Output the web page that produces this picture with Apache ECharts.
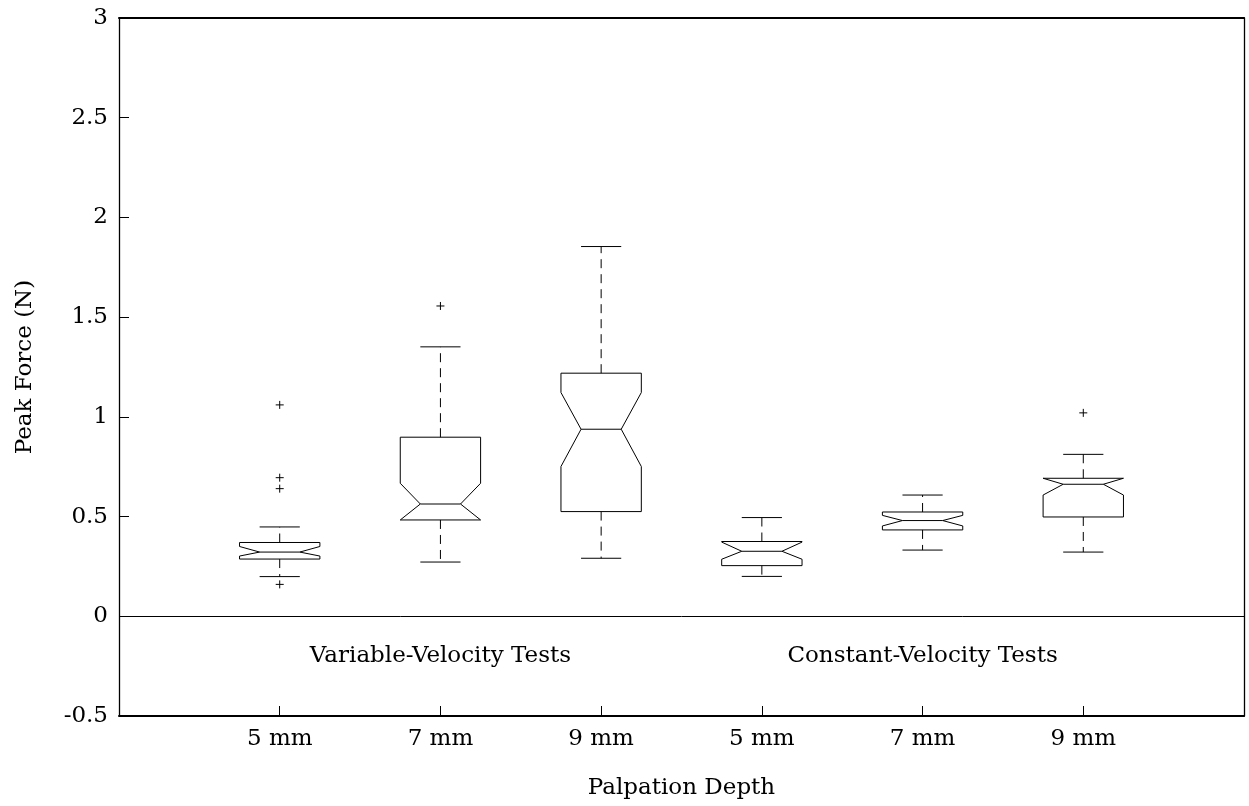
<!DOCTYPE html>
<html>
<head>
<meta charset="utf-8">
<script src="https://cdn.jsdelivr.net/npm/echarts@6/dist/echarts.min.js"></script>
<style>
  html, body { margin: 0; padding: 0; background: #fff; }
  #chart { width: 1249px; height: 806px; }
</style>
</head>
<body>
<div id="chart"></div>
<script>
// Box positions on the x axis and their tick labels
const positions = [1, 2, 3, 4, 5, 6];
const depthLabels = ['5 mm', '7 mm', '9 mm', '5 mm', '7 mm', '9 mm'];

// Box statistics (N)
const whiskerLow  = [0.199, 0.272, 0.291, 0.200, 0.332, 0.322];
const q1          = [0.287, 0.483, 0.525, 0.254, 0.433, 0.498];
const notchLow    = [0.302, 0.483, 0.751, 0.286, 0.453, 0.608];
const median      = [0.322, 0.563, 0.938, 0.326, 0.480, 0.662];
const notchHigh   = [0.350, 0.667, 1.122, 0.372, 0.506, 0.692];
const q3          = [0.370, 0.898, 1.219, 0.375, 0.523, 0.692];
const whiskerHigh = [0.448, 1.351, 1.854, 0.495, 0.608, 0.812];

// Outliers: [position, value]
const outliers = [
  [1, 1.06], [1, 0.695], [1, 0.640], [1, 0.160],
  [2, 1.556],
  [6, 1.020]
];

// Group captions placed inside the plot
const groupCaptions = [
  [2, -0.2, 'Variable-Velocity Tests'],
  [5, -0.2, 'Constant-Velocity Tests']
];

const FONT = 'DejaVu Serif';
const FS = 23;
const boxHalf = 0.25;     // half box width in axis units
const notchHalf = 0.125;  // half width at the median
const capHalf = 0.125;    // half whisker cap width

const boxData = positions.map((p, i) => [p, whiskerLow[i], q1[i], notchLow[i], median[i], notchHigh[i], q3[i], whiskerHigh[i]]);

const chart = echarts.init(document.getElementById('chart'), null, { renderer: 'canvas' });

const lineStyle = { stroke: '#000', lineWidth: 1, fill: null };
const dashStyle = { stroke: '#000', lineWidth: 1, lineDash: [9, 6], fill: null };

function renderBox(params, api) {
  const x = api.value(0);
  const v = [1,2,3,4,5,6,7].map(k => api.value(k));
  const [wl, b1, nl, md, nh, b3, wh] = v;
  const P = (dx, y) => api.coord([x + dx, y]);
  const outline = [
    P(-boxHalf, b1), P(-boxHalf, nl), P(-notchHalf, md), P(-boxHalf, nh), P(-boxHalf, b3),
    P(boxHalf, b3), P(boxHalf, nh), P(notchHalf, md), P(boxHalf, nl), P(boxHalf, b1)
  ];
  const children = [
    { type: 'polygon', shape: { points: outline }, style: lineStyle },
    { type: 'line', shape: { x1: P(-notchHalf, md)[0], y1: P(0, md)[1], x2: P(notchHalf, md)[0], y2: P(0, md)[1] }, style: lineStyle },
    { type: 'line', shape: { x1: P(0, b3)[0], y1: P(0, b3)[1], x2: P(0, wh)[0], y2: P(0, wh)[1] }, style: dashStyle },
    { type: 'line', shape: { x1: P(0, b1)[0], y1: P(0, b1)[1], x2: P(0, wl)[0], y2: P(0, wl)[1] }, style: dashStyle },
    { type: 'line', shape: { x1: P(-capHalf, wh)[0], y1: P(0, wh)[1], x2: P(capHalf, wh)[0], y2: P(0, wh)[1] }, style: lineStyle },
    { type: 'line', shape: { x1: P(-capHalf, wl)[0], y1: P(0, wl)[1], x2: P(capHalf, wl)[0], y2: P(0, wl)[1] }, style: lineStyle }
  ];
  return { type: 'group', children };
}

function renderPlus(params, api) {
  const c = api.coord([api.value(0), api.value(1)]);
  const r = 4;
  return {
    type: 'group',
    children: [
      { type: 'line', shape: { x1: c[0] - r, y1: c[1], x2: c[0] + r, y2: c[1] }, style: lineStyle },
      { type: 'line', shape: { x1: c[0], y1: c[1] - r, x2: c[0], y2: c[1] + r }, style: lineStyle }
    ]
  };
}

function renderCaption(params, api) {
  const c = api.coord([api.value(0), api.value(1)]);
  return {
    type: 'text',
    x: c[0], y: c[1],
    style: { text: groupCaptions[params.dataIndex][2], font: FS + 'px "' + FONT + '"', fill: '#000', align: 'center', verticalAlign: 'middle' }
  };
}

chart.setOption({
  animation: false,
  backgroundColor: '#fff',
  grid: { left: 119, right: 5, top: 18, bottom: 90, containLabel: false },
  xAxis: [{
    type: 'value', min: 0, max: 7, interval: 1,
    name: 'Palpation Depth', nameLocation: 'middle', nameGap: 72,
    nameTextStyle: { fontFamily: FONT, fontSize: FS, color: '#000', verticalAlign: 'middle' },
    axisLine: { show: true, onZero: false, lineStyle: { color: '#000', width: 2 } },
    axisTick: { show: true, inside: true, length: 10, lineStyle: { color: '#000', width: 1 },
      customValues: positions },
    axisLabel: { color: '#000', fontFamily: FONT, fontSize: FS, margin: 12,
      customValues: positions,
      formatter: v => depthLabels[positions.indexOf(v)] || '' },
    splitLine: { show: false }
  }, {
    type: 'value', min: 0, max: 7, position: 'top',
    axisLine: { show: true, onZero: false, lineStyle: { color: '#000', width: 2 } },
    axisTick: { show: false }, axisLabel: { show: false }, splitLine: { show: false }
  }],
  yAxis: [{
    type: 'value', min: -0.5, max: 3, interval: 0.5,
    name: 'Peak Force (N)', nameLocation: 'middle', nameGap: 94, nameRotate: 90,
    nameTextStyle: { fontFamily: FONT, fontSize: FS, color: '#000', verticalAlign: 'middle' },
    axisLine: { show: true, onZero: false, lineStyle: { color: '#000', width: 1.3 } },
    axisTick: { show: true, inside: true, length: 10, lineStyle: { color: '#000', width: 1 } },
    axisLabel: { color: '#000', fontFamily: FONT, fontSize: FS, margin: 11 },
    splitLine: { show: false }
  }, {
    type: 'value', min: -0.5, max: 3, position: 'right',
    axisLine: { show: true, onZero: false, lineStyle: { color: '#000', width: 1.3 } },
    axisTick: { show: false }, axisLabel: { show: false }, splitLine: { show: false }
  }],
  series: [
    {
      type: 'custom', xAxisIndex: 0, yAxisIndex: 0,
      renderItem: renderBox,
      data: boxData,
      encode: { x: 0, y: [1, 7] },
      markLine: {
        silent: true, symbol: 'none', label: { show: false },
        lineStyle: { color: '#000', width: 1, type: 'solid' },
        data: [{ yAxis: 0 }]
      }
    },
    {
      type: 'custom', xAxisIndex: 0, yAxisIndex: 0,
      renderItem: renderPlus,
      data: outliers,
      encode: { x: 0, y: 1 }
    },
    {
      type: 'custom', xAxisIndex: 0, yAxisIndex: 0,
      renderItem: renderCaption,
      data: groupCaptions.map(g => [g[0], g[1]]),
      encode: { x: 0, y: 1 }
    }
  ]
});
</script>
</body>
</html>
